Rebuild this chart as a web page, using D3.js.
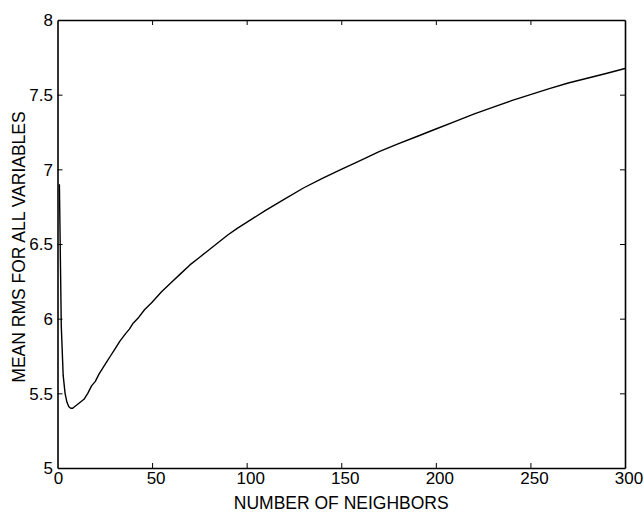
<!DOCTYPE html>
<html>
<head>
<meta charset="utf-8">
<script src="https://cdn.jsdelivr.net/npm/d3@7"></script>
<style>
  html, body { margin: 0; padding: 0; background: #fff; }
  svg { display: block; }
  text { font-family: "Liberation Sans", Arial, Helvetica, sans-serif; fill: #000; }
</style>
</head>
<body>
<svg id="chart" width="644" height="514"></svg>
<script>
// Number of neighbors (k)
const neighbors = [1, 2, 3, 4, 5, 6, 7, 8, 9, 10, 12, 14, 16, 18, 20, 22, 24, 26, 28, 30,
  33, 36, 38, 40, 43, 46, 50, 55, 60, 65, 70, 75, 80, 85, 90, 95, 100,
  110, 120, 130, 140, 150, 160, 170, 180, 190, 200, 210, 220, 230, 240, 250,
  260, 270, 280, 290, 300];
// Mean RMS for all variables
const meanRMS = [6.90, 5.95, 5.62, 5.50, 5.44, 5.41, 5.40, 5.40, 5.41, 5.42, 5.44, 5.46, 5.50, 5.55, 5.58, 5.63, 5.67, 5.71, 5.75, 5.79,
  5.85, 5.90, 5.93, 5.97, 6.01, 6.06, 6.11, 6.18, 6.24, 6.30, 6.36, 6.41, 6.46, 6.51, 6.56, 6.605, 6.645,
  6.725, 6.80, 6.875, 6.94, 7.00, 7.058, 7.118, 7.17, 7.22, 7.27, 7.32, 7.37, 7.415, 7.46, 7.50,
  7.54, 7.578, 7.61, 7.642, 7.675];
const xTicks = [0, 50, 100, 150, 200, 250, 300];
const yTicks = [5, 5.5, 6, 6.5, 7, 7.5, 8];
const xLabel = "NUMBER OF NEIGHBORS";
const yLabel = "MEAN RMS FOR ALL VARIABLES";

const L = 57.5, R = 625, T = 20, B = 468;
const svg = d3.select("#chart");
const x = d3.scaleLinear().domain([0, 300]).range([L, R]);
const y = d3.scaleLinear().domain([5, 8]).range([B, T]);
const fs = 17;
const tickLen = 5;

// Curve
const line = d3.line().x((d, i) => x(neighbors[i])).y(d => y(d));
svg.append("path")
  .datum(meanRMS)
  .attr("d", line)
  .attr("fill", "none")
  .attr("stroke", "#000")
  .attr("stroke-width", 1.4)
  .attr("stroke-linejoin", "round");

// Axes (inward ticks, mirrored)
const fmtY = d => d3.format("")(d);
const gB = svg.append("g").attr("transform", `translate(0,${B})`)
  .call(d3.axisBottom(x).tickValues(xTicks).tickSizeInner(-tickLen).tickSizeOuter(0).tickPadding(0));
const gT = svg.append("g").attr("transform", `translate(0,${T})`)
  .call(d3.axisTop(x).tickValues(xTicks).tickSizeInner(-tickLen).tickSizeOuter(0).tickFormat(""));
const gL = svg.append("g").attr("transform", `translate(${L},0)`)
  .call(d3.axisLeft(y).tickValues(yTicks).tickSizeInner(-tickLen).tickSizeOuter(0).tickFormat(fmtY));
const gR = svg.append("g").attr("transform", `translate(${R},0)`)
  .call(d3.axisRight(y).tickValues(yTicks).tickSizeInner(-tickLen).tickSizeOuter(0).tickFormat(""));

[gB, gT, gL, gR].forEach(g => {
  g.select(".domain").attr("stroke", "#000").attr("stroke-width", 1.6);
  g.selectAll(".tick line").attr("stroke", "#000").attr("stroke-width", 1);
  g.selectAll(".tick text").attr("font-size", fs).attr("font-family", '"Liberation Sans", Arial, sans-serif');
});
// hide end ticks that coincide with frame
gB.selectAll(".tick").filter(d => d === 0 || d === 300).select("line").remove();
gT.selectAll(".tick").filter(d => d === 0 || d === 300).select("line").remove();
gL.selectAll(".tick").filter(d => d === 5 || d === 8).select("line").remove();
gR.selectAll(".tick").filter(d => d === 5 || d === 8).select("line").remove();

gB.selectAll(".tick text").attr("y", 16).attr("dy", 0).attr("dx", d => d === 0 ? 0.5 : 3.5);
gL.selectAll(".tick text").attr("x", -4.5).attr("dy", "0.35em");

// Axis labels
svg.append("text")
  .attr("x", (L + R) / 2)
  .attr("y", 509)
  .attr("text-anchor", "middle")
  .attr("font-size", 17.5)
  .text(xLabel);
svg.append("text")
  .attr("transform", `translate(25,${(T + B) / 2 + 3}) rotate(-90)`)
  .attr("text-anchor", "middle")
  .attr("font-size", 17.5)
  .text(yLabel);
</script>
</body>
</html>
